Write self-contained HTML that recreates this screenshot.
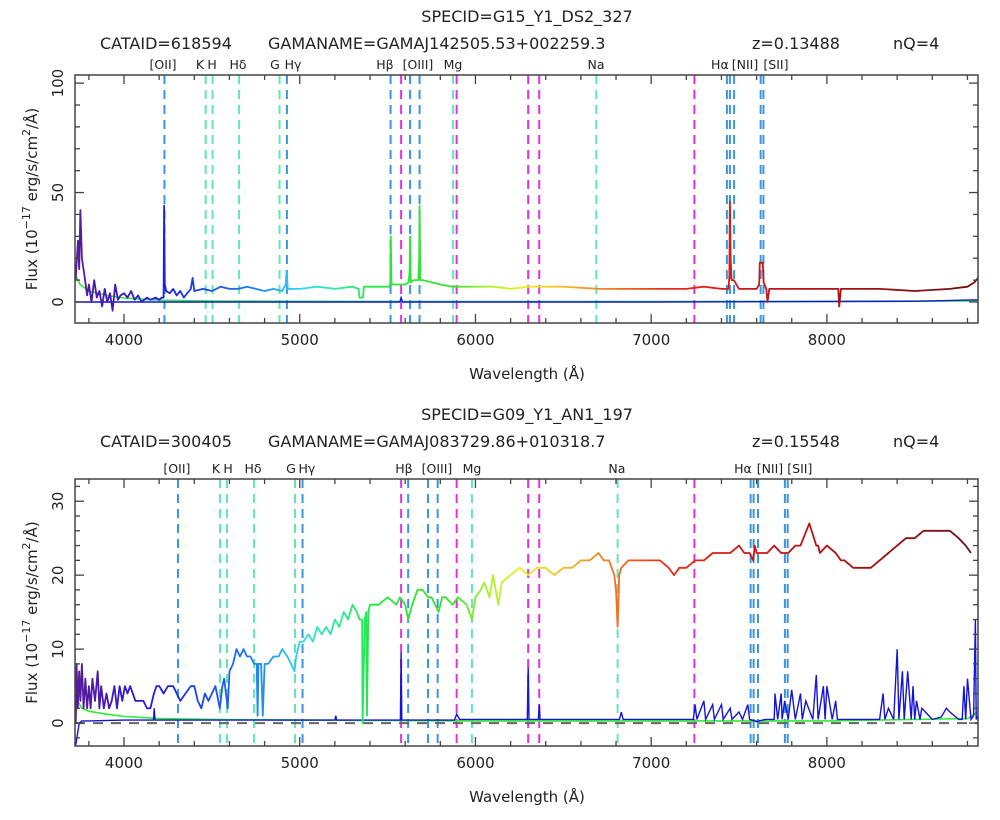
<!DOCTYPE html>
<html><head><meta charset="utf-8">
<style>
body{margin:0;background:#fff;}
svg{display:block;font-family:"DejaVu Sans","Liberation Sans",sans-serif;}
</style></head>
<body>
<svg id="chart" width="1000" height="820" viewBox="0 0 1000 820" xmlns="http://www.w3.org/2000/svg">
<defs>
<linearGradient id="rainbow" gradientUnits="userSpaceOnUse" x1="75" y1="0" x2="978" y2="0">
<stop offset="0" stop-color="#5a1a9a"/>
<stop offset="0.05" stop-color="#3a18c0"/>
<stop offset="0.1" stop-color="#1a20e8"/>
<stop offset="0.17" stop-color="#2060e8"/>
<stop offset="0.21" stop-color="#2090f0"/>
<stop offset="0.25" stop-color="#30d8f0"/>
<stop offset="0.29" stop-color="#30e8a0"/>
<stop offset="0.33" stop-color="#20e840"/>
<stop offset="0.42" stop-color="#40e030"/>
<stop offset="0.46" stop-color="#b0f030"/>
<stop offset="0.5" stop-color="#f0f020"/>
<stop offset="0.55" stop-color="#f0b030"/>
<stop offset="0.6" stop-color="#f07020"/>
<stop offset="0.65" stop-color="#e83018"/>
<stop offset="0.75" stop-color="#d01414"/>
<stop offset="0.87" stop-color="#a01010"/>
<stop offset="1" stop-color="#6a1010"/>
</linearGradient>
</defs>
</svg>
<script>
// ---- data ----
const xTicks = [4000,5000,6000,7000,8000];
const topYTicks = [0,50,100];
const botYTicks = [0,10,20,30];

const topLineWaves = [4230,4465,4504,4655,4885,4927,5517,5628,5682,5873,6688,7431,7448,7472,7623,7639];
const topLineKinds = ['e','a','a','a','a','e','e','e','e','a','a','e','e','e','e','e'];
const botLineWaves = [4307,4546,4586,4740,4973,5016,5617,5730,5785,5980,6809,7566,7583,7608,7761,7777];
const botLineKinds = ['e','a','a','a','a','e','e','e','e','a','a','e','e','e','e','e'];
const skyLines = [5577,5893,6300,6363,7246];
const labelNames = ['[OII]','K','H','Hδ','G','Hγ','Hβ','[OIII]','Mg','Na','Hα','[NII]','[SII]'];
const topLabelWaves = [4222,4432,4501,4649,4859,4962,5485,5673,5872,6686,7391,7534,7710];
const botLabelWaves = [4301,4523,4592,4734,4950,5041,5593,5781,5980,6805,7522,7676,7846];

const topWave = [3725,3730,3738,3745,3752,3760,3775,3790,3800,3815,3830,3845,3860,3875,3890,3905,3920,3935,3950,3965,3980,4000,4020,4040,4060,4080,4100,4130,4150,4180,4200,4215,4225,4228,4232,4240,4260,4280,4300,4320,4340,4360,4380,4390,4400,4450,4500,4550,4600,4650,4700,4750,4800,4850,4900,4920,4925,4932,4950,5000,5100,5200,5300,5335,5340,5360,5365,5450,5510,5515,5518,5522,5600,5620,5625,5628,5632,5650,5675,5680,5682,5686,5700,5750,5800,5870,6000,6100,6200,6300,6400,6500,6700,7000,7200,7300,7400,7440,7445,7448,7452,7458,7470,7500,7600,7615,7618,7635,7640,7655,7662,7672,7800,8000,8065,8070,8080,8300,8500,8700,8800,8840,8860];
const topFlux = [10,18,28,15,42,20,12,3,8,0,10,2,5,-2,6,0,4,-4,8,1,3,4,2,5,1,3,0,2,1,2,1,2,2,44,8,5,4,6,3,5,2,4,6,11,5,6,5,7,6,6,7,6,5,6,5,8,14,6,6,6,7,6,7,6,2,2,7,7,7,8,30,8,8,9,14,30,9,10,10,20,44,10,10,9,8,7,7,7,6,7,7,7,6,6,6,7,6,6,12,46,20,10,10,6,6,8,18,18,9,6,0,6,6,6,6,-2,6,6,5,6,7,9,11];

const topErrWave = [3725,3760,3800,4000,5570,5577,5585,7000,8500,8860];
const topErrFlux = [0,0,0,0,0,2,0,0,0.3,1];
const topSkyWave = [3725,3750,3800,3900,4000,4200,4500,5000,6000,7000,8000,8860];
const topSkyFlux = [12,8,5,3,1.8,0.8,0.4,0.3,0.2,0.2,0.3,0.5];

const botWave = [3725,3730,3737,3745,3752,3760,3770,3780,3790,3800,3810,3820,3835,3850,3860,3870,3885,3900,3915,3930,3945,3960,3975,3990,4005,4020,4035,4050,4065,4080,4095,4110,4130,4150,4170,4185,4200,4225,4250,4280,4300,4320,4350,4380,4400,4420,4440,4460,4480,4500,4520,4545,4560,4570,4590,4600,4620,4640,4660,4680,4700,4720,4740,4755,4760,4765,4780,4790,4800,4820,4850,4880,4900,4930,4950,4970,4980,5000,5020,5050,5075,5100,5125,5150,5175,5200,5225,5250,5275,5300,5325,5340,5350,5355,5358,5370,5378,5383,5390,5400,5450,5500,5550,5570,5600,5617,5640,5670,5700,5730,5750,5790,5810,5830,5870,5900,5950,5980,6000,6030,6050,6080,6100,6130,6150,6200,6250,6300,6350,6400,6450,6500,6550,6600,6650,6700,6730,6760,6790,6800,6809,6818,6830,6870,6900,6950,7000,7050,7100,7130,7160,7200,7250,7300,7350,7400,7450,7500,7530,7560,7580,7590,7600,7620,7660,7700,7740,7780,7820,7850,7900,7940,7950,7960,8000,8050,8080,8100,8150,8200,8250,8300,8350,8400,8450,8500,8550,8600,8650,8700,8750,8790,8820,8840,8860];
const botFlux = [0,8,2,7,3,8,2,6,2,5,2,6,3,7,2,5,2,4,2,3,5,2,5,3,5,4,5,4,3,3,3,3,2,2,4,5,5,4,5,5,4,3,4,5,5,3,2,4,3,4,5,2,5,6,2,7,8,10,9,10,9,9,8,8,1,8,8,1,8,8,9,9,10,9,8,7,9,11,11,12,11,13,12,13,12,14,13,15,14,16,15,14,14,14,0,14,15,1,15,16,16,17,16,17,16,14,16,18,18,17,17,15,17,17,16,17,16,14,17,18,19,17,20,16,19,20,21,20,21,21,20,21,21,22,22,23,22,22,20,18,13,20,21,22,22,22,22,22,21,20,21,21,22,22,23,23,23,24,23,23,22,24,23,23,23,24,23,23,24,24,27,24,24,23,24,23,22,22,21,21,21,22,23,24,25,25,26,26,26,26,25,24,23];

const botErrWave = [3725,3745,3760,3800,4000,4168,4172,4176,4500,5200,5205,5210,5573,5577,5581,5880,5893,5910,6295,6300,6305,6358,6363,6368,6820,6830,6840,7240,7250,7260,7300,7310,7350,7360,7400,7410,7450,7460,7500,7520,7550,7560,7600,7650,7700,7705,7720,7740,7745,7760,7780,7800,7820,7850,7860,7880,7920,7940,7950,7980,7990,8000,8030,8050,8060,8100,8300,8320,8330,8350,8380,8400,8410,8430,8440,8460,8480,8490,8500,8510,8530,8540,8600,8650,8680,8700,8750,8770,8780,8790,8800,8820,8835,8845,8850,8860];
const botErrFlux = [-3,0,0.3,0.3,0.4,0.4,2,0.4,0.4,0.4,1,0.4,0.4,9.5,0.4,0.4,1.2,0.5,0.5,7.5,0.5,0.5,2.5,0.5,0.5,1.5,0.5,0.5,2.5,0.5,3,0.5,2.5,0.5,2.5,0.5,2,0.5,1.5,0.5,2.5,0.5,0.2,0.5,0.5,4,0.5,4,0.5,3,0.5,4.5,0.5,4,0.5,3,0.5,6.5,0.5,5,0.5,5,0.5,3,0.5,0.5,0.5,4,0.5,2,0.5,10,0.5,7,0.5,7,0.5,5,0.5,3,0.5,2,0.5,0.8,2,1.5,0.5,0.5,5,0.5,6,0.5,1,14,0.5,1];
const botSkyWave = [3725,3735,3760,3800,3900,4000,4200,4500,5000,6000,7000,8000,8800,8860];
const botSkyFlux = [1,3,2,1.6,1.2,0.9,0.6,0.5,0.4,0.3,0.3,0.3,0.6,1.5];

// ---- geometry ----
const NS = 'http://www.w3.org/2000/svg';
const svg = document.getElementById('chart');
const X0 = 75, X1 = 978, W0 = 3721, W1 = 8860;
function xs(w){ return X0 + (w - W0) * (X1 - X0) / (W1 - W0); }
function mk(tag, attrs, parent){
  const e = document.createElementNS(NS, tag);
  for (const k in attrs) e.setAttribute(k, attrs[k]);
  (parent || svg).appendChild(e);
  return e;
}
function txt(x, y, s, size, anchor, parent){
  const t = mk('text', {x:x, y:y, 'font-size':size, 'text-anchor':anchor || 'middle', fill:'#222'}, parent);
  t.textContent = s;
  return t;
}

function panel(p){
  const g = mk('g', {});
  
  
  const ys = v => p.yb - (v - p.ymin) * (p.yb - p.yt) / (p.ymax - p.ymin);

  let t = txt(527, p.hy1, p.specid, 16, 'middle', g);
   
  t = txt(100, p.hy2, p.cataid, 16, 'start', g);
   
  t = txt(268, p.hy2, p.gamaname, 16, 'start', g);
   
  t = txt(752, p.hy2, p.z, 16, 'start', g);
   
  t = txt(893, p.hy2, 'nQ=4', 16, 'start', g);
   

  for (let i = 0; i < labelNames.length; i++){
    const l = txt(xs(p.labelWaves[i]), p.yt - 6, labelNames[i], 12.5, 'middle', g);
    
    
  }

  const cid = 'clip' + p.name;
  const cp = mk('clipPath', {id:cid}, g);
  mk('rect', {x:X0, y:p.yt, width:X1-X0, height:p.yb-p.yt}, cp);
  const inner = mk('g', {'clip-path':'url(#'+cid+')'}, g);

  for (let i = 0; i < p.lineWaves.length; i++){
    const x = xs(p.lineWaves[i]);
    const ln = mk('line', {x1:x, x2:x, y1:p.yt, y2:p.yb, stroke: p.lineKinds[i]==='e' ? '#3d95e0' : '#5fe8b4', 'stroke-width':2, 'stroke-dasharray':'9 6'}, inner);
    
    
  }
  for (const w of skyLines){
    const x = xs(w);
    const ln = mk('line', {x1:x, x2:x, y1:p.yt, y2:p.yb, stroke:'#e030e0', 'stroke-width':2, 'stroke-dasharray':'9 6'}, inner);
    
    
  }
  if (p.zeroLine){
    const z = mk('line', {x1:X0, x2:X1, y1:ys(0), y2:ys(0), stroke:'#666', 'stroke-width':2, 'stroke-dasharray':'10 8'}, inner);
    
    
  }

  const path = (wa, fa) => wa.map((w,i)=>(i?'L':'M')+xs(w).toFixed(1)+','+ys(fa[i]).toFixed(1)).join('');
  let s = mk('path', {d:path(p.skyW, p.skyF), fill:'none', stroke:'#30ee30', 'stroke-width':1.6}, inner);
  
  
  s = mk('path', {d:path(p.errW, p.errF), fill:'none', stroke:'#1414d8', 'stroke-width':1.4}, inner);
  
  
  s = mk('path', {d:path(p.wave, p.flux), fill:'none', stroke:'url(#rainbow)', 'stroke-width':1.8, 'stroke-linejoin':'round'}, inner);
  
  

  const fr = mk('rect', {x:X0, y:p.yt, width:X1-X0, height:p.yb-p.yt, fill:'none', stroke:'#444', 'stroke-width':1.5}, g);
  
  

  for (let w = 3800; w <= 8800; w += 200){
    const x = xs(w), big = (w % 1000 === 0) ? 9 : 5;
    mk('line', {x1:x, x2:x, y1:p.yb, y2:p.yb-big, stroke:'#444', 'stroke-width':1.3}, g);
    mk('line', {x1:x, x2:x, y1:p.yt, y2:p.yt+big, stroke:'#444', 'stroke-width':1.3}, g);
  }
  for (const w of xTicks){
    const l = txt(xs(w), p.yb + 22, String(w), 15, 'middle', g);
    
    
  }
  for (let v = Math.ceil(p.ymin/p.minor)*p.minor; v <= p.ymax; v += p.minor){
    const y = ys(v), big = (v % p.major === 0) ? 9 : 5;
    mk('line', {x1:X0, x2:X0+big, y1:y, y2:y, stroke:'#444', 'stroke-width':1.3}, g);
    mk('line', {x1:X1, x2:X1-big, y1:y, y2:y, stroke:'#444', 'stroke-width':1.3}, g);
  }
  for (const v of p.yTicks){
    const y = ys(v);
    const l = txt(0, 0, String(v), 15, 'middle', g);
    l.setAttribute('transform', 'translate(63,'+y+') rotate(-90)');
    
    
  }
  let xt = txt(527, p.yb + 56, 'Wavelength (Å)', 15, 'middle', g);
  
  
  const cy = (p.yt + p.yb) / 2;
  const yt = mk('text', {'font-size':15, 'text-anchor':'middle', fill:'#222', transform:'translate(37,'+cy+') rotate(-90)'}, g);
  
  
  yt.innerHTML = 'Flux (10<tspan dy="-7" font-size="11">−17</tspan><tspan dy="7"> erg/s/cm</tspan><tspan dy="-7" font-size="11">2</tspan><tspan dy="7">/Å)</tspan>';
}

panel({name:'top-panel', specid:'SPECID=G15_Y1_DS2_327', cataid:'CATAID=618594', gamaname:'GAMANAME=GAMAJ142505.53+002259.3', z:'z=0.13488',
  hy1:22, hy2:49, yt:75, yb:323, ymin:-9.6, ymax:103.7, minor:10, major:50, yTicks:topYTicks,
  lineWaves:topLineWaves, lineKinds:topLineKinds, labelWaves:topLabelWaves,
  wave:topWave, flux:topFlux, errW:topErrWave, errF:topErrFlux, skyW:topSkyWave, skyF:topSkyFlux, zeroLine:false});
panel({name:'bottom-panel', specid:'SPECID=G09_Y1_AN1_197', cataid:'CATAID=300405', gamaname:'GAMANAME=GAMAJ083729.86+010318.7', z:'z=0.15548',
  hy1:420, hy2:447, yt:479, yb:746, ymin:-3.1, ymax:33.0, minor:2, major:10, yTicks:botYTicks,
  lineWaves:botLineWaves, lineKinds:botLineKinds, labelWaves:botLabelWaves,
  wave:botWave, flux:botFlux, errW:botErrWave, errF:botErrFlux, skyW:botSkyWave, skyF:botSkyFlux, zeroLine:true});
</script>
</body></html>
